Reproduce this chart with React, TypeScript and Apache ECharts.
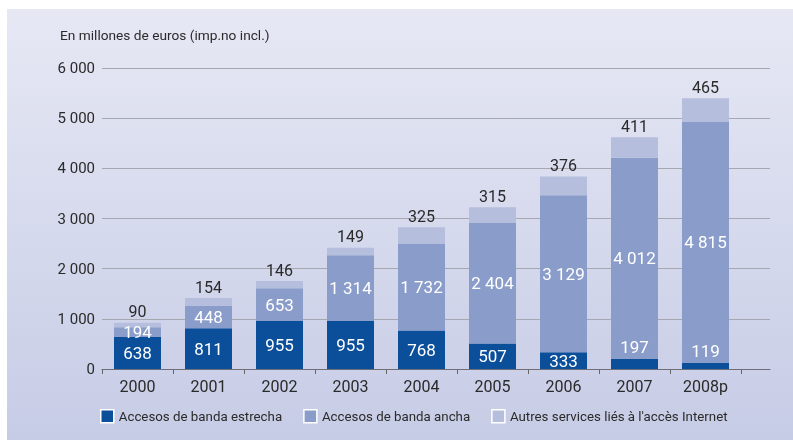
import React, { useEffect, useRef } from "react";
import * as echarts from "echarts";

const categories = ["2000", "2001", "2002", "2003", "2004", "2005", "2006", "2007", "2008p"];
const narrowband = [638, 811, 955, 955, 768, 507, 333, 197, 119];
const broadband = [194, 448, 653, 1314, 1732, 2404, 3129, 4012, 4815];
const otherServices = [90, 154, 146, 149, 325, 315, 376, 411, 465];
const seriesNames = [
  "Accesos de banda estrecha",
  "Accesos de banda ancha",
  "Autres services liés à l'accès Internet",
];
const axisTitle = "En millones de euros (imp.no incl.)";

const FONT = 'Roboto, "Liberation Sans", sans-serif';
const NUMFONT = 'Roboto, "Liberation Sans", sans-serif';

const fmt = (v: number) => {
  const s = String(Math.round(v));
  return s.replace(/\B(?=(\d{3})+(?!\d))/g, " ");
};

export default function App() {
  const ref = useRef<HTMLDivElement>(null);
  useEffect(() => {
    if (!ref.current) return;
    const chart = echarts.init(ref.current, undefined, { renderer: "svg" });
    const gridTop = 68;
    const gridBottom = 71;
    const option: any = {
      animation: false,
      graphic: [
        {
          type: "rect",
          z: -100,
          silent: true,
          shape: { x: 7, y: 9, width: 786, height: 431 },
          style: {
            fill: new echarts.graphic.LinearGradient(0, 0, 0, 1, [
              { offset: 0, color: "#e6e8f4" },
              { offset: 1, color: "#c7cce6" },
            ]),
          },
        },
        {
          type: "text",
          left: 60,
          top: 28,
          style: {
            text: axisTitle,
            fill: "#2a2a2a",
            font: `13.7px ${FONT}`,
          },
        },
      ],
      legend: {
        left: 100,
        top: 409,
        padding: 0,
        width: 690,
        orient: "horizontal",
        itemWidth: 13,
        itemHeight: 13,
        itemGap: 21,
        icon: "rect",
        textStyle: { fontFamily: FONT, fontSize: 13.3, color: "#2a2a2a" },
        data: seriesNames.map((n) => ({
          name: n,
          itemStyle: { borderColor: "#ffffff", borderWidth: 1.5 },
        })),
      },
      grid: [
        { left: 102, right: 52, top: gridTop, bottom: gridBottom },
        { left: 102, right: 23, top: gridTop, bottom: gridBottom },
      ],
      xAxis: [
        {
          type: "category",
          gridIndex: 0,
          data: categories,
          boundaryGap: true,
          axisLine: { show: false },
          axisTick: {
            show: true,
            interval: 0,
            length: 5,
            inside: false,
            lineStyle: { color: "#666", width: 1 },
          },
          axisLabel: {
            interval: 0,
            margin: 9,
            color: "#2a2a2a",
            fontFamily: NUMFONT,
            fontSize: 16,
          },
        },
        {
          type: "value",
          gridIndex: 1,
          min: 0,
          max: 1,
          axisLine: { show: true, onZero: false, lineStyle: { color: "#6e6e78", width: 1 } },
          axisTick: { show: false },
          axisLabel: { show: false },
          splitLine: { show: false },
        },
      ],
      yAxis: [
        {
          type: "value",
          gridIndex: 0,
          min: 0,
          max: 6000,
          interval: 1000,
          axisLine: { show: false },
          axisTick: { show: false },
          axisLabel: { show: false },
          splitLine: { show: false },
        },
        {
          type: "value",
          gridIndex: 1,
          min: 0,
          max: 6000,
          interval: 1000,
          axisLine: { show: false },
          axisTick: { show: false },
          axisLabel: {
            margin: 7,
            color: "#2a2a2a",
            fontFamily: NUMFONT,
            fontSize: 15,
            formatter: (v: number) => fmt(v),
          },
          splitLine: { show: true, lineStyle: { color: "#a6a7b0", width: 1.2 } },
        },
      ],
      series: [
        {
          name: seriesNames[0],
          type: "bar",
          stack: "total",
          xAxisIndex: 0,
          yAxisIndex: 0,
          barWidth: 47,
          itemStyle: { color: "#0b4f9b" },
          label: {
            show: true,
            position: "inside",
            color: "#ffffff",
            fontFamily: NUMFONT,
            fontSize: 17,
            formatter: (p: any) => fmt(p.value),
          },
          data: narrowband.map((v) =>
            v < 250 ? { value: v, label: { position: "top", distance: 4 } } : v
          ),
        },
        {
          name: seriesNames[1],
          type: "bar",
          stack: "total",
          xAxisIndex: 0,
          yAxisIndex: 0,
          barWidth: 47,
          itemStyle: { color: "#8a9cca" },
          label: {
            show: true,
            position: "inside",
            color: "#ffffff",
            fontFamily: NUMFONT,
            fontSize: 17,
            formatter: (p: any) => fmt(p.value),
          },
          data: broadband,
        },
        {
          name: seriesNames[2],
          type: "bar",
          stack: "total",
          xAxisIndex: 0,
          yAxisIndex: 0,
          barWidth: 47,
          itemStyle: { color: "#b5bedd" },
          label: {
            show: true,
            position: "top",
            distance: 3,
            color: "#2a2a2a",
            fontFamily: NUMFONT,
            fontSize: 16,
            formatter: (p: any) => fmt(p.value),
          },
          data: otherServices,
        },
      ],
    };
    chart.setOption(option);
    return () => chart.dispose();
  }, []);
  return (
    <div
      ref={ref}
      style={{ position: "fixed", left: 0, top: 0, width: 793, height: 440 }}
    />
  );
}
